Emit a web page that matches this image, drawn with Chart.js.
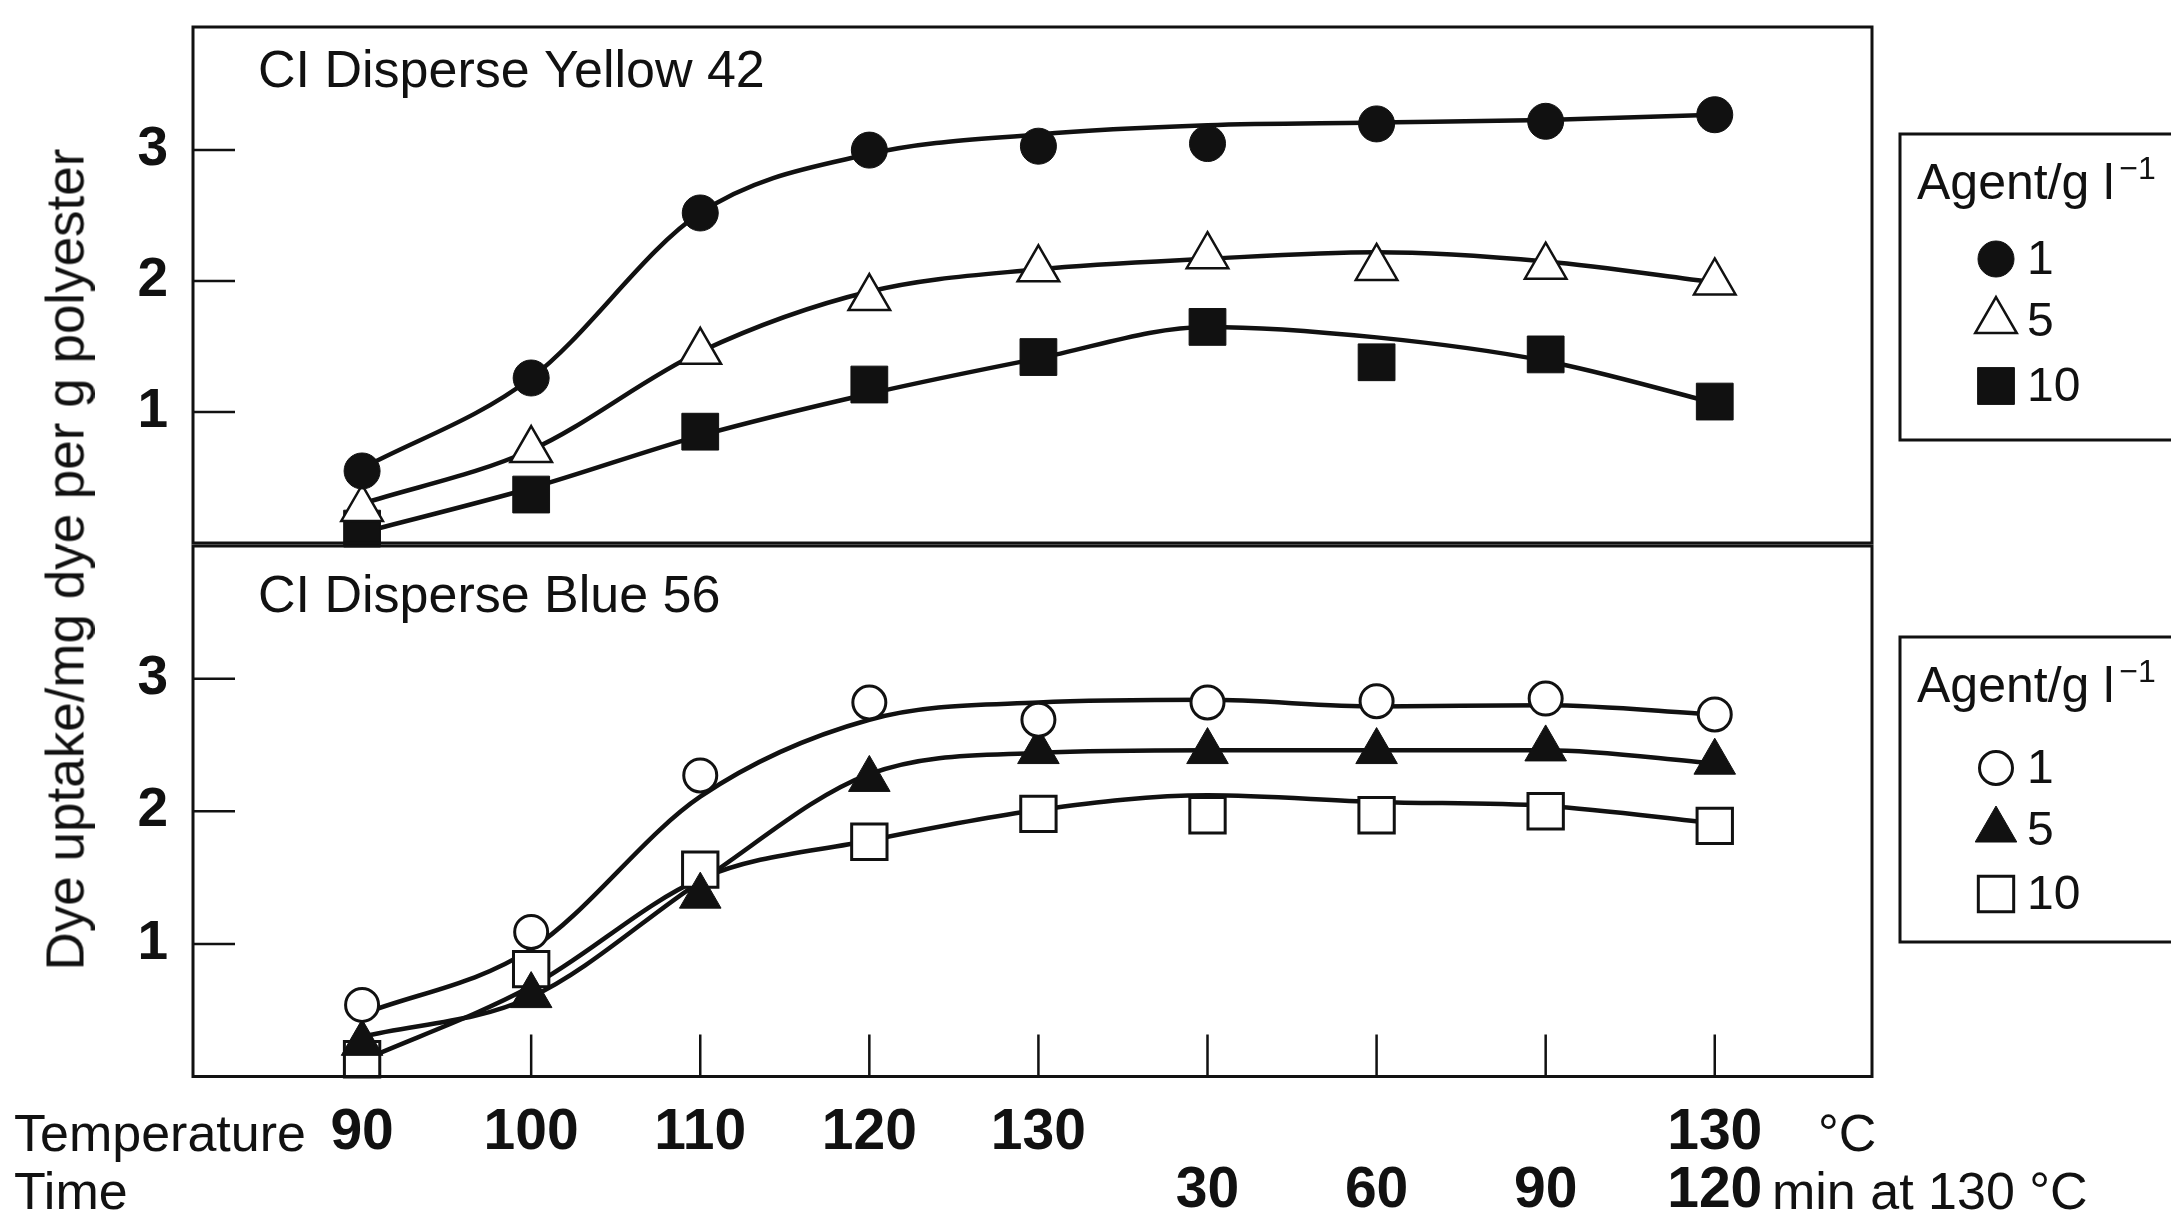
<!DOCTYPE html>
<html lang="en">
<head>
<meta charset="UTF-8">
<title>Dye uptake – CI Disperse Yellow 42 / Blue 56</title>
<script src="https://cdn.jsdelivr.net/npm/chart.js@4.4.1/dist/chart.umd.min.js"></script>
<style>
    body {
        margin: 0;
        background: #fff;
        width: 2171px;
        height: 1212px;
        overflow: hidden;
        position: relative;
        font-family: 'Liberation Sans', Arial, sans-serif;
        color: #111;
    }
    canvas { position: absolute; left: 0; }
    #topPanel { top: 0; }
    #bottomPanel { top: 516px; }
    #yTitle {
        position: absolute;
        width: 1000px;
        left: -434.7px;
        top: 533px;
        font-size: 53px;
        line-height: 53px;
        text-align: center;
        white-space: nowrap;
        transform: rotate(-90deg);
    }
</style>
</head>
<body>
<canvas id="topPanel" width="2171" height="570"></canvas>
<canvas id="bottomPanel" width="2171" height="696"></canvas>
<div id="yTitle">Dye uptake/mg dye per g polyester</div>

<script>
// x categories: temperature ramp, then time held at 130 °C
const temps = ['90', '100', '110', '120', '130', '', '', '', '130'];
const times = ['', '', '', '', '', '30', '60', '90', '120'];
const agentLevels = ['1', '5', '10'];
const yTicks = [1, 2, 3];

// CI Disperse Yellow 42 - measured points
const yellow1 = [0.55, 1.26, 2.52, 3.00, 3.03, 3.05, 3.20, 3.22, 3.27];
const yellow5 = [0.26, 0.71, 1.46, 1.87, 2.09, 2.19, 2.10, 2.11, 1.99];
const yellow10 = [0.11, 0.37, 0.85, 1.21, 1.42, 1.65, 1.38, 1.44, 1.08];
// Yellow 42 - fitted curves, read at each category
const yellow1Fit = [0.57, 1.26, 2.52, 2.97, 3.12, 3.19, 3.21, 3.23, 3.27];
const yellow5Fit = [0.30, 0.71, 1.46, 1.92, 2.09, 2.17, 2.22, 2.15, 1.99];
const yellow10Fit = [0.08, 0.42, 0.82, 1.14, 1.41, 1.65, 1.57, 1.39, 1.07];

// CI Disperse Blue 56 - measured points
const blue1 = [0.54, 1.09, 2.27, 2.82, 2.69, 2.82, 2.83, 2.85, 2.73];
const blue5 = [0.25, 0.61, 1.36, 2.24, 2.45, 2.45, 2.45, 2.47, 2.37];
const blue10 = [0.13, 0.81, 1.56, 1.77, 1.98, 1.97, 1.97, 2.00, 1.89];
// Blue 56 - fitted curves
const blue1Fit = [0.47, 0.96, 2.11, 2.69, 2.82, 2.84, 2.79, 2.80, 2.73];
const blue5Fit = [0.30, 0.60, 1.47, 2.28, 2.44, 2.46, 2.46, 2.46, 2.36];
const blue10Fit = [0.12, 0.68, 1.49, 1.78, 2.01, 2.12, 2.07, 2.04, 1.91];

const INK = '#111';
const FONT = "'Liberation Sans', Arial, sans-serif";

const marker = {
    filledCircle:   { pointStyle: 'circle',   radius: 18,   fill: INK,    borderWidth: 1 },
    openCircle:     { pointStyle: 'circle',   radius: 16.5, fill: '#fff', borderWidth: 3 },
    openTriangle:   { pointStyle: 'triangle', radius: 24,   fill: '#fff', borderWidth: 2.5 },
    filledTriangle: { pointStyle: 'triangle', radius: 24,   fill: INK,    borderWidth: 1 },
    filledSquare:   { pointStyle: 'rect',     radius: 26,   fill: INK,    borderWidth: 1 },
    openSquare:     { pointStyle: 'rect',     radius: 25,   fill: '#fff', borderWidth: 3 }
};

function toPoints(values) {
    return values.map((v, i) => ({ x: i, y: v }));
}

function curve(values) {
    return {
        type: 'line',
        data: toPoints(values),
        borderColor: INK,
        borderWidth: 4.5,
        pointRadius: 0,
        cubicInterpolationMode: 'monotone',
        fill: false,
        order: 2
    };
}

function points(values, m, label) {
    return {
        type: 'scatter',
        data: toPoints(values),
        legendLabel: label,
        marker: m,
        pointStyle: m.pointStyle,
        pointRadius: m.radius,
        pointBackgroundColor: m.fill,
        pointBorderColor: INK,
        pointBorderWidth: m.borderWidth,
        showLine: false,
        clip: false,
        order: 1
    };
}

function drawMarker(ctx, m, x, y) {
    ctx.fillStyle = m.fill;
    ctx.strokeStyle = INK;
    ctx.lineWidth = m.borderWidth;
    Chart.helpers.drawPoint(ctx, {
        pointStyle: m.pointStyle, radius: m.radius, rotation: 0, borderWidth: m.borderWidth
    }, x, y);
}

// frame, inward ticks, panel title and the boxed legend
const panelPlugin = {
    id: 'panel',
    beforeDatasetsDraw(chart, args, o) {
        const { ctx, chartArea: a, scales } = chart;
        ctx.save();
        ctx.strokeStyle = INK;
        ctx.lineWidth = 2.5;
        ctx.beginPath();
        scales.y.ticks.forEach(t => {
            const y = scales.y.getPixelForValue(t.value);
            ctx.moveTo(a.left, y);
            ctx.lineTo(a.left + 42, y);
        });
        if (o.xTicks) {
            scales.x.ticks.forEach(t => {
                const x = scales.x.getPixelForValue(t.value);
                ctx.moveTo(x, a.bottom);
                ctx.lineTo(x, a.bottom - 42);
            });
        }
        ctx.stroke();
        ctx.fillStyle = INK;
        ctx.font = '52px ' + FONT;
        ctx.textBaseline = 'alphabetic';
        ctx.fillText(o.title, a.left + 65, a.top + o.titleDy);
        ctx.restore();
    },
    afterDraw(chart, args, o) {
        const { ctx, chartArea: a } = chart;
        ctx.save();
        ctx.strokeStyle = INK;
        ctx.lineWidth = 3;
        ctx.strokeRect(a.left, a.top, a.right - a.left, a.bottom - a.top);

        // legend box (runs off the right edge, as in the original figure)
        const L = o.legend;
        ctx.strokeRect(L.x, L.y, 400, L.h);
        ctx.fillStyle = INK;
        ctx.textBaseline = 'alphabetic';
        ctx.font = '50px ' + FONT;
        ctx.fillText('Agent/g l', L.x + 17, L.y + 65);
        const w = ctx.measureText('Agent/g l').width;
        ctx.font = '32px ' + FONT;
        ctx.fillText('\u22121', L.x + 17 + w + 5, L.y + 45);

        const items = chart.data.datasets.filter(d => d.legendLabel);
        items.forEach((d, i) => {
            const cy = L.y + L.rows[i];
            drawMarker(ctx, d.marker, L.x + 96, cy);
            ctx.fillStyle = INK;
            ctx.font = '48px ' + FONT;
            ctx.textBaseline = 'middle';
            ctx.fillText(d.legendLabel, L.x + 127, cy + 2);
        });
        ctx.restore();
    }
};

function makePanel(id, datasets, opts) {
    return new Chart(document.getElementById(id), {
        data: { datasets: datasets },
        plugins: [panelPlugin],
        options: {
            responsive: false,
            animation: false,
            events: [],
            layout: { padding: opts.padding },
            plugins: {
                legend: { display: false },
                tooltip: { enabled: false },
                panel: opts.panel
            },
            scales: {
                x: {
                    type: 'linear',
                    min: -1,
                    max: 8.93,
                    display: opts.showX,
                    grid: { display: false },
                    border: { display: false },
                    afterBuildTicks: s => { s.ticks = temps.map((_, i) => ({ value: i })); },
                    afterFit: s => { s.height = opts.showX ? 135.5 : 0; },
                    ticks: {
                        autoSkip: false,
                        maxRotation: 0,
                        padding: 20,
                        color: INK,
                        font: { family: FONT, size: 57, weight: 'bold', lineHeight: 1.02 },
                        callback: v => [temps[v], times[v]]
                    }
                },
                y: {
                    type: 'linear',
                    min: 0,
                    max: opts.yMax,
                    grid: { display: false },
                    border: { display: false },
                    afterBuildTicks: s => { s.ticks = yTicks.map(v => ({ value: v })); },
                    afterFit: s => { s.width = 193; },
                    ticks: {
                        padding: 17,
                        color: INK,
                        // tiny line height keeps the scale from reserving extra room above/below
                        font: { family: FONT, size: 55, weight: 'bold', lineHeight: 0.01 }
                    }
                }
            }
        }
    });
}

// marker datasets are listed in legend order; curves are drawn beneath them
makePanel('topPanel', [
    curve(yellow1Fit), curve(yellow5Fit), curve(yellow10Fit),
    points(yellow1, marker.filledCircle, agentLevels[0]),
    points(yellow5, marker.openTriangle, agentLevels[1]),
    points(yellow10, marker.filledSquare, agentLevels[2])
], {
    padding: { top: 26, right: 299, bottom: 24, left: 0 },
    yMax: 3.94,
    showX: false,
    panel: {
        title: 'CI Disperse Yellow 42', titleDy: 60, xTicks: false,
        legend: { x: 1900, y: 134, h: 306, rows: [125, 187, 252] }
    }
});

makePanel('bottomPanel', [
    curve(blue1Fit), curve(blue5Fit), curve(blue10Fit),
    points(blue1, marker.openCircle, agentLevels[0]),
    points(blue5, marker.filledTriangle, agentLevels[1]),
    points(blue10, marker.openSquare, agentLevels[2])
], {
    padding: { top: 30, right: 299, bottom: 0, left: 0 },
    yMax: 4.0,
    showX: true,
    panel: {
        title: 'CI Disperse Blue 56', titleDy: 66, xTicks: true,
        legend: { x: 1900, y: 121, h: 305, rows: [131, 193, 257] }
    }
});

// row captions beside the x tick labels
(function () {
    const ctx = document.getElementById('bottomPanel').getContext('2d');
    ctx.save();
    ctx.fillStyle = INK;
    ctx.font = '52px ' + FONT;
    ctx.textBaseline = 'alphabetic';
    ctx.fillText('Temperature', 14, 635);
    ctx.fillText('Time', 14, 693);
    ctx.fillText('\u00B0C', 1818, 635);
    ctx.fillText('min at 130 \u00B0C', 1772, 693);
    ctx.restore();
})();
</script>
</body>
</html>
